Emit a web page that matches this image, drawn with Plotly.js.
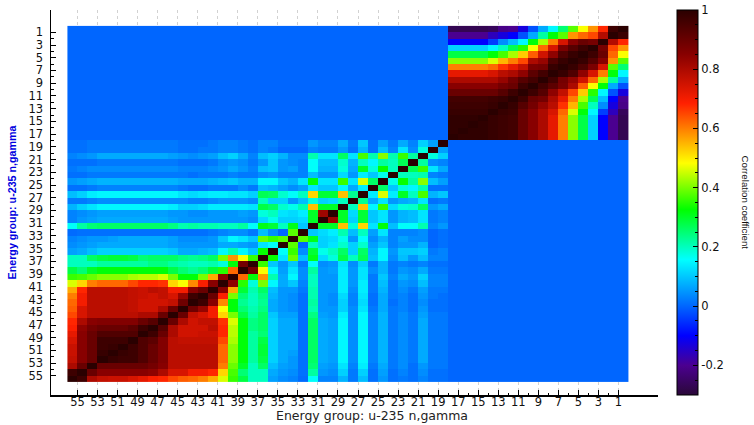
<!DOCTYPE html>
<html>
<head>
<meta charset="utf-8">
<script src="https://cdn.plot.ly/plotly-3.0.1.min.js"></script>
<style>html,body{margin:0;padding:0;background:#fff}#chart{width:754px;height:425px}</style>
</head>
<body>
<div id="chart"></div>
<script>
const groups = [1,2,3,4,5,6,7,8,9,10,11,12,13,14,15,16,17,18,19,20,21,22,23,24,25,26,27,28,
  29,30,31,32,33,34,35,36,37,38,39,40,41,42,43,44,45,46,47,48,49,50,51,52,53,54,55,56];
const majorTicks = [1,3,5,7,9,11,13,15,17,19,21,23,25,27,29,31,33,35,37,39,41,43,45,47,49,51,53,55];
const minorTicks = [2,4,6,8,10,12,14,16,18,20,22,24,26,28,30,32,34,36,38,40,42,44,46,48,50,52,54];
const barTicks = [-0.2,0,0.2,0.4,0.6,0.8,1];
const axisTitle = 'Energy group: u-235 n,gamma';
const barTitle = 'Correlation coefficient';
const zMin = -0.3, zMax = 1;
const crossValue = 0;

// lower triangle of groups 1-18: row g lists correlation with groups 1..g
const blockLow = [
[1],
[.97,1],
[.68,.79,1],
[.58,.65,.88,1],
[.48,.62,.9,.97,1],
[.38,.58,.85,.93,.98,1],
[.25,.38,.74,.87,.94,.98,1],
[.15,.32,.6,.74,.84,.94,.98,1],
[.07,.22,.43,.62,.75,.83,.88,.96,1],
[-.02,.07,.32,.48,.63,.8,.87,.92,.96,1],
[-.13,-.02,.15,.35,.53,.65,.77,.84,.93,.97,1],
[-.2,-.1,.09,.27,.43,.6,.72,.8,.88,.9,.97,1],
[-.21,-.13,.04,.2,.37,.55,.67,.78,.83,.88,.93,.98,1],
[-.26,-.16,-.04,.15,.32,.46,.62,.74,.8,.85,.9,.97,.98,1],
[-.27,-.2,-.1,.11,.28,.41,.6,.72,.8,.85,.9,.96,.97,.98,1],
[-.27,-.2,-.1,.11,.28,.41,.6,.72,.8,.85,.9,.96,.97,.98,.99,1],
[-.27,-.2,-.1,.11,.28,.41,.6,.72,.8,.85,.9,.96,.97,.98,.99,.99,1],
[-.27,-.2,-.1,.11,.28,.41,.6,.72,.8,.85,.9,.96,.97,.98,.99,.99,.99,1]
];

// lower triangle of groups 19-56: row g lists correlation with groups 19..g
const blockHigh = [
[1],
[.06,1],
[.11,.18,1],
[.03,.04,.22,1],
[.07,.13,.36,.27,1],
[.02,.03,.21,.2,.2,1],
[.06,.09,.41,.22,.33,.17,1],
[.01,.01,.21,.15,.18,.1,.26,1],
[.1,.08,.37,.2,.3,.14,.46,.14,1],
[.02,.01,.13,.08,.07,.05,.13,.07,.23,1],
[.07,.05,.26,.19,.18,.12,.36,.15,.54,.2,1],
[.03,.02,.13,.09,.08,.05,.13,.1,.29,.12,.3,1],
[.03,.02,.13,.09,.08,.05,.13,.1,.29,.11,.3,.82,1],
[.05,.03,.21,.16,.16,.09,.32,.13,.52,.18,.54,.3,.3,1],
[.01,0,.04,.03,.03,.03,.13,.06,.2,.09,.21,.14,.12,.1,1],
[.01,0,.04,.04,.06,.03,.08,.04,.16,.05,.17,.12,.11,.31,.38,1],
[.01,0,.08,.05,.05,.03,.1,.06,.19,.11,.19,.13,.11,.2,0,.38,1],
[.03,.02,.11,.1,.1,.05,.15,.08,.26,.11,.26,.2,.17,.29,.04,.36,.16,1],
[.03,.03,.09,.05,.09,.04,.15,.09,.27,.2,.28,.18,.12,.31,.09,.39,.13,.33,1],
[.01,.01,.03,.02,.03,.02,.08,.02,.11,.04,.13,.05,.04,.16,.02,.1,.05,.1,.36,1],
[.02,.02,.07,.04,.05,.02,.08,.04,.13,.05,.14,.06,.05,.22,.04,.13,.06,.15,.48,.88,1],
[.03,.03,.11,.05,.07,.03,.1,.02,.13,.05,.14,.05,.05,.2,.04,.15,.07,.21,.58,.32,.62,1],
[.03,.03,.09,.04,.05,.02,.09,.02,.14,.05,.14,.05,.05,.2,.03,.1,.07,.15,.4,.18,.35,.84,1],
[.02,.02,.06,.02,.04,.02,.08,.02,.14,.04,.14,.05,.05,.21,.02,.05,.05,.09,.26,.21,.29,.56,.85,1],
[.01,.02,.05,.01,.03,.02,.07,.01,.13,.03,.12,.04,.05,.21,.01,.04,.05,.08,.24,.2,.25,.4,.69,.9,1],
[.01,.01,.04,.01,.03,.01,.07,.01,.12,.03,.11,.04,.05,.22,.01,.04,.05,.07,.23,.2,.23,.32,.59,.85,.97,1],
[.01,.01,.05,.01,.03,.02,.07,.02,.13,.04,.11,.05,.05,.21,.01,.04,.05,.07,.24,.21,.25,.32,.48,.7,.83,.89,1],
[.02,.02,.06,.02,.04,.02,.08,.03,.15,.04,.14,.05,.06,.24,.01,.06,.06,.1,.26,.22,.28,.4,.52,.7,.74,.77,.9,1],
[.02,.02,.07,.02,.04,.02,.08,.03,.15,.04,.15,.06,.07,.26,.01,.07,.07,.11,.26,.24,.32,.46,.67,.77,.77,.75,.8,.9,1],
[.02,.02,.07,.02,.04,.02,.08,.03,.15,.04,.15,.06,.07,.26,.01,.07,.07,.11,.26,.24,.32,.44,.68,.78,.75,.75,.75,.8,.93,1],
[.02,.02,.07,.02,.04,.02,.08,.03,.15,.04,.15,.06,.07,.26,.01,.07,.07,.11,.25,.22,.32,.44,.68,.76,.76,.75,.75,.8,.9,.97,1],
[.02,.02,.07,.02,.04,.02,.08,.03,.15,.04,.15,.06,.07,.26,.01,.07,.07,.11,.28,.22,.32,.43,.65,.77,.77,.77,.77,.78,.86,.92,.94,1],
[.02,.02,.07,.02,.04,.02,.08,.03,.15,.04,.15,.06,.07,.26,.01,.07,.07,.11,.29,.22,.32,.41,.62,.78,.78,.78,.78,.78,.86,.9,.94,.97,1],
[.02,.02,.07,.02,.04,.02,.08,.03,.15,.04,.15,.06,.07,.26,.01,.06,.07,.11,.29,.22,.32,.41,.62,.78,.78,.78,.78,.78,.86,.9,.94,.97,.98,1],
[.02,.02,.07,.02,.04,.02,.08,.03,.15,.04,.15,.06,.07,.26,.01,.05,.07,.11,.28,.22,.32,.41,.62,.78,.78,.78,.78,.78,.86,.9,.94,.97,.97,.98,1],
[.02,.02,.05,.01,.04,.02,.07,.02,.14,.03,.13,.05,.06,.25,.01,.05,.06,.09,.26,.2,.3,.39,.6,.78,.78,.78,.78,.78,.85,.88,.9,.9,.9,.9,.9,1],
[.01,.01,.04,.01,.03,.01,.06,.01,.11,.02,.11,.04,.05,.22,.01,.04,.05,.07,.2,.2,.25,.37,.52,.68,.7,.7,.74,.74,.8,.84,.85,.85,.85,.85,.85,.9,1],
[.01,.01,.03,.01,.02,.01,.05,.01,.09,.02,.08,.03,.03,.16,.005,.03,.04,.06,.2,.2,.28,.36,.46,.56,.6,.62,.63,.65,.68,.69,.72,.74,.76,.76,.77,.8,.97,1]
];

const colorStops = [
  [-0.30,'#2a0838'],[-0.20,'#4b0090'],[-0.10,'#0000ff'],[0,'#0066ff'],[0.157,'#00ffff'],
  [0.326,'#00ff00'],[0.483,'#ffff00'],[0.685,'#ff2000'],[0.85,'#880000'],[1,'#2a0000']
];
const colorscale = colorStops.map(s => [(s[0]-zMin)/(zMax-zMin), s[1]]);

const z = groups.map(g => groups.map(h => {
  const a = Math.max(g,h), b = Math.min(g,h);
  if (a <= 18) return blockLow[a-1][b-1];
  if (b >= 19) return blockHigh[a-19][b-19];
  return crossValue;
}));

const sansWide = '"DejaVu Sans", Verdana, sans-serif';
const sansTall = '"Liberation Sans", Arial, sans-serif';
const textFont = {family:sansWide, size:11.5, color:'#111'};
const plotLeft = 51, plotTop = 10, plotW = 607, plotH = 385;
const barLeft = 677, barW = 21;
const barPaperX = (barLeft-plotLeft)/plotW;

const axisBase = {
  tickmode:'array', ticks:'inside', ticklen:5, tickwidth:1, tickcolor:'#000',
  tickfont:textFont, showline:true, linecolor:'#000', linewidth:1.5, zeroline:false,
  minor:{tickmode:'array', tickvals:minorTicks.map(t=>t+0.5), ticks:'inside', ticklen:2.5, tickwidth:1, tickcolor:'#000', showgrid:false}
};

const traces = [
  {type:'heatmap', x:groups, y:groups, z:z, zmin:zMin, zmax:zMax, colorscale:colorscale, zsmooth:false,
   colorbar:{x:barPaperX, xanchor:'left', xpad:0, y:1, yanchor:'top', ypad:0, len:plotH, lenmode:'pixels',
     thickness:barW, thicknessmode:'pixels', outlinecolor:'#000', outlinewidth:1,
     tickmode:'array', tickvals:barTicks, ticktext:barTicks.map(String), ticks:'inside', ticklen:5, tickcolor:'#000', tickfont:textFont}},
  {type:'heatmap', x:[200,201], y:[200], z:[[zMin,zMax]], zmin:zMin, zmax:zMax, hoverinfo:'skip',
   colorscale:[[0,'rgba(0,0,0,0)'],[1,'rgba(0,0,0,0)']],
   colorbar:{x:barPaperX, xanchor:'left', xpad:0, y:1, yanchor:'top', ypad:0, len:plotH, lenmode:'pixels',
     thickness:barW, thicknessmode:'pixels', outlinewidth:0, tick0:0, dtick:0.05, ticks:'inside', ticklen:2.5,
     tickcolor:'#000', showticklabels:false}}
];

const layout = {
  width:754, height:425, paper_bgcolor:'#fff', plot_bgcolor:'#fff', showlegend:false,
  margin:{l:plotLeft, t:plotTop, r:754-plotLeft-plotW, b:425-plotTop-plotH, pad:0},
  xaxis:Object.assign({}, axisBase, {range:[58.14,-2.44], tickvals:majorTicks.map(t=>t+0.5), ticktext:majorTicks.map(String),
    showgrid:true, gridcolor:'#d2d2d2', griddash:'dot', gridwidth:1, ticklabelstandoff:-4}),
  yaxis:Object.assign({}, axisBase, {range:[58.5,-2], tickvals:majorTicks.map(t=>t+0.5), ticktext:majorTicks.map(String),
    showgrid:false, ticklabelstandoff:4,
    title:{text:'<b>'+axisTitle+'</b>', standoff:10, font:{family:sansTall,size:10.7,color:'#0000e0'}}}),
  annotations:[
    {text:barTitle, xref:'paper', yref:'paper', x:(745-plotLeft)/plotW, y:(395-202.5)/plotH,
     xanchor:'center', yanchor:'middle', showarrow:false, textangle:90, font:{family:sansTall,size:9.7,color:'#111'}},
    {text:axisTitle, xref:'paper', yref:'paper', x:(371.5-plotLeft)/plotW, y:(395-416)/plotH,
     xanchor:'center', yanchor:'middle', showarrow:false, font:{family:sansWide,size:12.5,color:'#222'}}
  ]
};

Plotly.newPlot('chart', traces, layout, {displayModeBar:false, staticPlot:true});
</script>
</body>
</html>
